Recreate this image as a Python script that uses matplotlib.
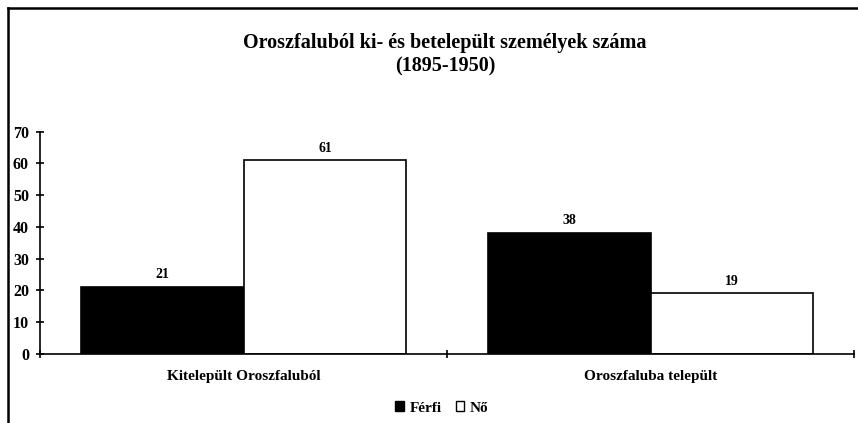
import matplotlib
matplotlib.use("Agg")
import matplotlib.pyplot as plt
from matplotlib.patches import Patch
from matplotlib.lines import Line2D
import numpy as np

categories = ["Kitelepült Oroszfaluból", "Oroszfaluba települt"]
series_names = ["Férfi", "Nő"]
ferfi = [21, 38]
no = [61, 19]
yticks = [0, 10, 20, 30, 40, 50, 60, 70]
title = "Oroszfaluból ki- és betelepült személyek száma\n(1895-1950)"

plt.rcParams['font.family'] = ['Liberation Serif', 'DejaVu Serif']
plt.rcParams['font.weight'] = 'bold'

W, H = 858, 423
fig = plt.figure(figsize=(W/100, H/100), dpi=100)
ax = fig.add_axes([40/W, (H-353.7)/H, (854-40)/W, (353.7-131.7)/H])

x = np.arange(len(categories))
bw = 0.4
b1 = ax.bar(x - bw/2, ferfi, bw, color='black', edgecolor='black', linewidth=1.2)
b2 = ax.bar(x + bw/2, no, bw, color='white', edgecolor='black', linewidth=1.2)
for bars, vals in ((b1, ferfi), (b2, no)):
    for r, v in zip(bars, vals):
        ax.text(r.get_x() + r.get_width()/2, v + 1.8, str(v), ha='center', va='bottom',
                fontsize=10, fontweight='bold')

ax.set_xlim(-0.5, len(categories) - 0.5)
ax.set_ylim(0, 70)
ax.set_yticks(yticks)
ax.set_yticklabels([str(t) for t in yticks], fontsize=11.5, fontweight='bold')
ax.set_xticks(np.arange(len(categories) + 1) - 0.5)
ax.set_xticklabels([])
ax.set_xticks(x, minor=True)
ax.set_xticklabels(categories, minor=True, fontsize=11, fontweight='bold')
ax.tick_params(axis='x', which='minor', length=0, pad=12)
ax.tick_params(axis='x', which='major', direction='inout', length=6, width=1.2)
ax.tick_params(axis='y', direction='inout', length=6, width=1.2, pad=5)
for s in ('top', 'right'):
    ax.spines[s].set_visible(False)
for s in ('left', 'bottom'):
    ax.spines[s].set_linewidth(1.2)

fig.text(445/W, 1 - 55/H, title, ha='center', va='center', fontsize=14.5,
         fontweight='bold', linespacing=1.25)

handles = [Patch(facecolor='black', edgecolor='black', label=series_names[0]),
           Patch(facecolor='white', edgecolor='black', label=series_names[1])]
fig.legend(handles=handles, loc='center', bbox_to_anchor=(442/W, 1 - 408/H), ncol=2,
           frameon=False, fontsize=11, handlelength=0.55, handleheight=0.55,
           handletextpad=0.4, columnspacing=0.9)

# chart frame
fig.add_artist(Line2D([8/W, 8/W], [0, 1 - 8/H], color='black', linewidth=1.8, transform=fig.transFigure))
fig.add_artist(Line2D([8/W, 1], [1 - 8/H, 1 - 8/H], color='black', linewidth=1.8, transform=fig.transFigure))

fig.savefig("out.png", dpi=100)
